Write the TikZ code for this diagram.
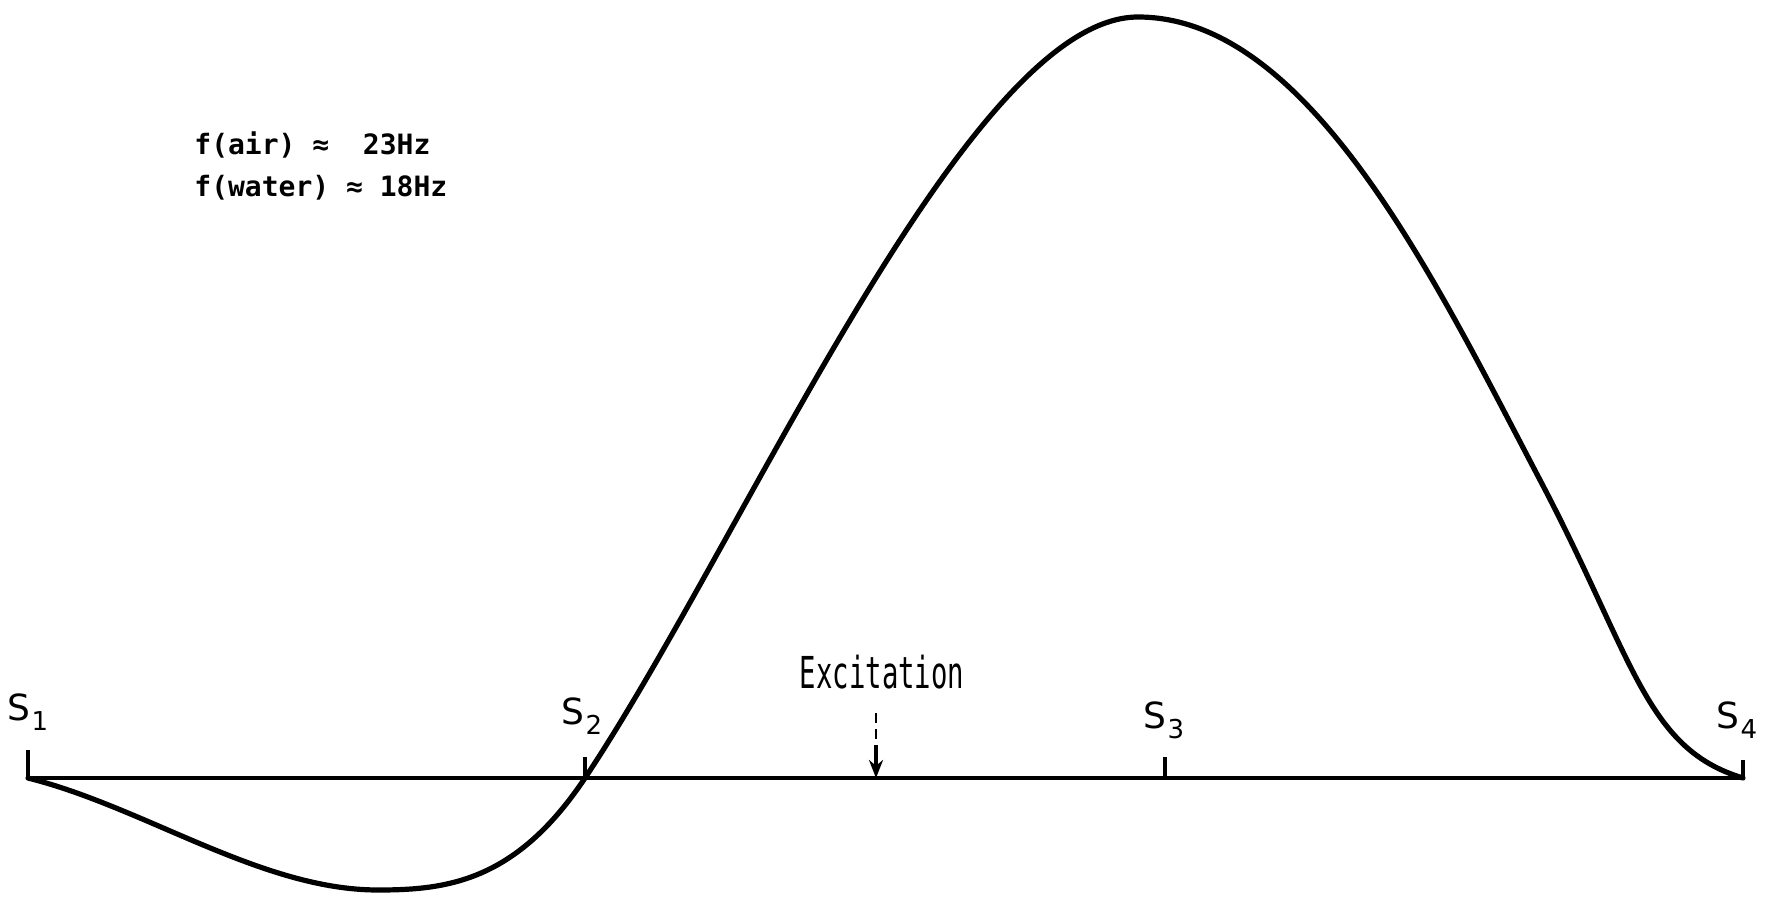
\documentclass[tikz,border=0pt]{standalone}
\usepackage{fontspec}
\setmainfont{DejaVu Sans}
\newfontfamily\monofam{DejaVu Sans Mono}
\usetikzlibrary{arrows.meta}
\tikzset{
  curve/.style={line width=2.6pt, line join=round, line cap=round},
  axisline/.style={line width=2.1pt},
  tick/.style={line width=1.6pt},
  slabel/.style={font=\fontsize{18}{18}\selectfont, inner sep=0pt},
  note/.style={font=\monofam\bfseries\fontsize{14}{20}\selectfont, inner sep=0pt, anchor=base west},
}
\newcommand{\sublbl}[1]{S\kern0.5pt\raisebox{-0.5ex}{\fontsize{13}{13}\selectfont #1}}
\begin{document}
\begin{tikzpicture}[x=0.5pt,y=-0.5pt]
\useasboundingbox (0,0) rectangle (1767,904);
% axis points
\coordinate (s1) at (28,778);
\coordinate (s2) at (585,778);
\coordinate (ex) at (876,778);
\coordinate (s3) at (1165,778);
\coordinate (s4) at (1743,778);
\coordinate (s1t) at (28,750);
\coordinate (s2t) at (585,757);
\coordinate (s3t) at (1165,757);
\coordinate (s4t) at (1743,760);
\coordinate (exa) at (876,713);
\coordinate (exb) at (876,745);
% axis with end ticks
\draw[axisline, line join=miter] (s1t) -- (s1) -- (s4) -- (s4t);
\draw[tick] (s2t) -- (s2);
\draw[tick] (s3t) -- (s3);
% labels
\node[slabel] (l1) at (28,712) {\sublbl{1}};
\node[slabel] (l2) at (582,716) {\sublbl{2}};
\node[slabel] (l3) at (1164,720) {\sublbl{3}};
\node[slabel] (l4) at (1737,720) {\sublbl{4}};
\node[inner sep=0pt] (exc) at (882,672) {\scalebox{0.62}[1]{\monofam\fontsize{22}{22}\selectfont Excitation}};
\draw[line width=1pt, dashed, dash pattern=on 5pt off 3pt] (exa) -- (exb);
\draw[line width=1.6pt, -{Stealth[length=9pt,width=7pt]}] (exb) -- (ex);
% frequencies
\node[note] (fair) at (194,155) {f(air) ≈ \ 23Hz};
\node[note] (fwater) at (194,196) {f(water) ≈ 18Hz};
% mode shape
\coordinate (p1) at (378,890);
\coordinate (p5) at (1138,17);
\coordinate (p7) at (1540,480);
\draw[curve] (s1)
  .. controls (144.7,807.2) and (261.3,890) .. (p1)
  .. controls (447,890) and (516,881.5) .. (s2)
  .. controls (745,538) and (968,17) .. (p5)
  .. controls (1310,17) and (1437,284.3) .. (p7)
  .. controls (1634,658.6) and (1645,748.6) .. (s4);
\end{tikzpicture}
\end{document}
